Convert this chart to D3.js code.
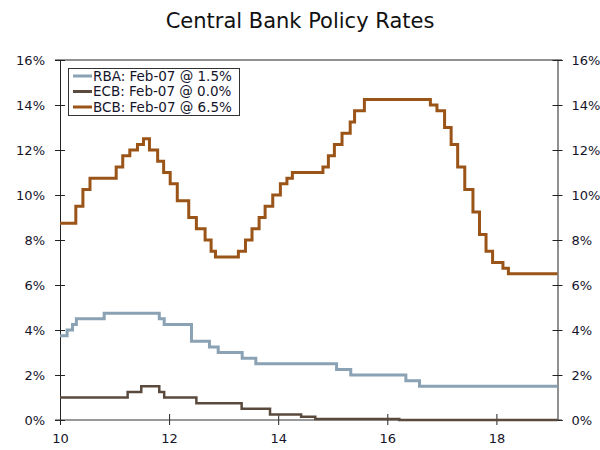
<!DOCTYPE html>
<html>
<head>
<meta charset="utf-8">
<script src="https://cdn.jsdelivr.net/npm/d3@7"></script>
<style>
  html, body { margin: 0; padding: 0; background: #ffffff; }
  svg { display: block; }
  text { font-family: "DejaVu Sans", Verdana, sans-serif; fill: #14142a; }
</style>
</head>
<body>
<svg id="chart" width="600" height="450"></svg>
<script>
// ---- Data (x = year - 2000, step changes) ----
const title = "Central Bank Policy Rates";
const seriesNames = ["RBA", "ECB", "BCB"];
const legendLabels = ["RBA: Feb-07 @ 1.5%", "ECB: Feb-07 @ 0.0%", "BCB: Feb-07 @ 6.5%"];
const seriesColors = ["#8aa2b4", "#5a4a3e", "#9b5418"];

const rbaDates = [10.0, 10.13, 10.23, 10.3, 10.81, 11.82, 11.91, 12.41, 12.74, 12.9, 13.34, 13.59, 15.07, 15.33, 16.34, 16.59, 19.12];
const rbaRates = [3.75, 4.0, 4.25, 4.5, 4.75, 4.5, 4.25, 3.5, 3.25, 3.0, 2.75, 2.5, 2.25, 2.0, 1.75, 1.5, 1.5];

const ecbDates = [10.0, 11.24, 11.49, 11.82, 11.91, 12.5, 13.33, 13.85, 14.42, 14.68, 16.22, 19.12];
const ecbRates = [1.0, 1.25, 1.5, 1.25, 1.0, 0.75, 0.5, 0.25, 0.15, 0.05, 0.0, 0.0];

const bcbDates = [10.0, 10.29, 10.42, 10.55, 11.03, 11.15, 11.28, 11.42, 11.53, 11.64, 11.79, 11.9, 12.02,
                  12.15, 12.36, 12.5, 12.66, 12.77, 12.85, 13.27, 13.4, 13.52, 13.65, 13.76, 13.9, 14.04, 14.16, 14.26,
                  14.82, 14.92, 15.03, 15.17, 15.32, 15.4, 15.58, 16.79, 16.91, 17.05, 17.17, 17.29, 17.42, 17.57,
                  17.69, 17.81, 17.93, 18.12, 18.22, 19.12];
const bcbRates = [8.75, 9.5, 10.25, 10.75, 11.25, 11.75, 12.0, 12.25, 12.5, 12.0, 11.5, 11.0, 10.5,
                  9.75, 9.0, 8.5, 8.0, 7.5, 7.25, 7.5, 8.0, 8.5, 9.0, 9.5, 10.0, 10.5, 10.75, 11.0,
                  11.25, 11.75, 12.25, 12.75, 13.25, 13.75, 14.25, 14.0, 13.75, 13.0, 12.25, 11.25, 10.25, 9.25,
                  8.25, 7.5, 7.0, 6.75, 6.5, 6.5];

const xTicks = [10, 12, 14, 16, 18];
const yTicks = [0, 2, 4, 6, 8, 10, 12, 14, 16];

// ---- Chart ----
const svg = d3.select("#chart");
const x = d3.scaleLinear().domain([10, 19.12]).range([60, 557.5]);
const y = d3.scaleLinear().domain([0, 16]).range([420, 60]);

svg.append("text")
  .attr("x", 300).attr("y", 28)
  .attr("text-anchor", "middle")
  .style("font-size", "21px")
  .style("fill", "#111")
  .text(title);

// frame lines top & bottom
svg.append("line").attr("x1", 55).attr("x2", 562).attr("y1", y(16)).attr("y2", y(16))
  .attr("stroke", "#222").attr("stroke-width", 1);

// left axis
const gl = svg.append("g").attr("transform", "translate(60,0)")
  .call(d3.axisLeft(y).tickValues(yTicks).tickFormat(d => d + "%").tickSize(5).tickPadding(10));
gl.select(".domain").attr("stroke", "#222");
gl.selectAll(".tick line").attr("x1", 5).attr("x2", -5).attr("stroke", "#222");
gl.selectAll(".tick text").style("font-size", "13px").style("font-family", "DejaVu Sans").attr("fill", "#14142a");

// right axis
const gr = svg.append("g").attr("transform", "translate(557.5,0)")
  .call(d3.axisRight(y).tickValues(yTicks).tickFormat(d => d + "%").tickSize(5).tickPadding(9));
gr.select(".domain").attr("stroke", "#222");
gr.selectAll(".tick line").attr("x1", -5).attr("x2", 5).attr("stroke", "#222");
gr.selectAll(".tick text").style("font-size", "13px").style("font-family", "DejaVu Sans").attr("fill", "#14142a");

// bottom axis
const gb = svg.append("g").attr("transform", "translate(0,420)")
  .call(d3.axisBottom(x).tickValues(xTicks).tickFormat(d3.format("d")).tickSize(5).tickPadding(9));
gb.select(".domain").remove();
gb.selectAll(".tick line").attr("y1", -6).attr("y2", 5).attr("stroke", "#222");
gb.selectAll(".tick text").style("font-size", "13px").style("font-family", "DejaVu Sans").attr("fill", "#14142a");

svg.append("line").attr("x1", 55).attr("x2", 562).attr("y1", y(0)).attr("y2", y(0))
  .attr("stroke", "#333").attr("stroke-width", 1);

// series
const series = [
  {dates: rbaDates, rates: rbaRates, width: 3},
  {dates: ecbDates, rates: ecbRates, width: 2.5},
  {dates: bcbDates, rates: bcbRates, width: 3}
];
const line = d3.line().x(d => x(d[0])).y(d => y(d[1])).curve(d3.curveStepAfter);
series.forEach((s, i) => {
  svg.append("path")
    .datum(s.dates.map((d, j) => [d, s.rates[j]]))
    .attr("fill", "none")
    .attr("stroke", seriesColors[i])
    .attr("stroke-width", s.width)
    .attr("d", line);
});

// legend
const lg = svg.append("g");
lg.append("rect").attr("x", 68.5).attr("y", 68.5).attr("width", 171).attr("height", 47)
  .attr("fill", "#fff").attr("stroke", "#333").attr("stroke-width", 1);
legendLabels.forEach((lab, i) => {
  const yy = 76 + i * 15.5;
  lg.append("line").attr("x1", 73).attr("x2", 92).attr("y1", yy).attr("y2", yy)
    .attr("stroke", seriesColors[i]).attr("stroke-width", 3);
  lg.append("text").attr("x", 93).attr("y", yy).attr("dy", "0.35em")
    .style("font-size", "13.5px").text(lab);
});
</script>
</body>
</html>
